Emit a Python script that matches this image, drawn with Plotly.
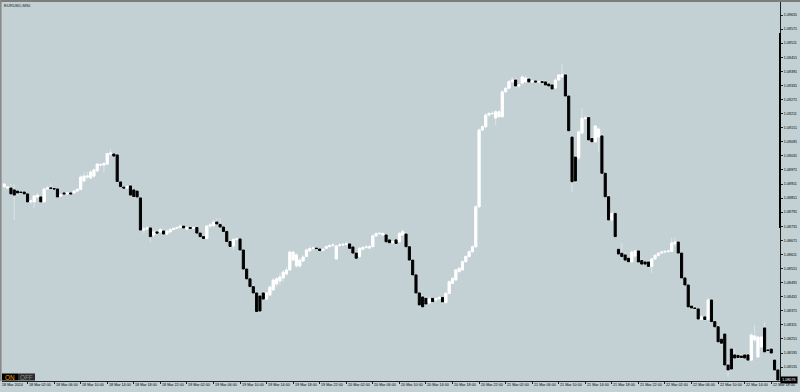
import plotly.graph_objects as go

# ---------------- data (EURUSD, M30) ----------------
opens = [
    1.08900, 1.08894, 1.08894, 1.08886, 1.08881, 1.08877, 1.08877, 1.08869, 1.08835, 1.08835,
    1.08856, 1.08856, 1.08835, 1.08890, 1.08894, 1.08892, 1.08890, 1.08860, 1.08873, 1.08869,
    1.08873, 1.08873, 1.08881, 1.08888, 1.08924, 1.08941, 1.08937, 1.08945, 1.08967, 1.08992,
    1.08992, 1.08996, 1.09039, 1.09039, 1.09035, 1.08920, 1.08898, 1.08894, 1.08903, 1.08886,
    1.08881, 1.08852, 1.08715, 1.08719, 1.08724, 1.08694, 1.08707, 1.08707, 1.08711, 1.08698,
    1.08707, 1.08717, 1.08722, 1.08726, 1.08732, 1.08719, 1.08726, 1.08722, 1.08726, 1.08702,
    1.08687, 1.08679, 1.08732, 1.08734, 1.08749, 1.08739, 1.08728, 1.08709, 1.08666, 1.08647,
    1.08675, 1.08677, 1.08630, 1.08549, 1.08507, 1.08474, 1.08447, 1.08434, 1.08447, 1.08421,
    1.08438, 1.08460, 1.08485, 1.08498, 1.08511, 1.08528, 1.08545, 1.08587, 1.08562, 1.08562,
    1.08583, 1.08602, 1.08626, 1.08636, 1.08638, 1.08634, 1.08628, 1.08637, 1.08644, 1.08649,
    1.08592, 1.08649, 1.08651, 1.08654, 1.08656, 1.08643, 1.08617, 1.08602, 1.08633, 1.08641,
    1.08638, 1.08644, 1.08690, 1.08700, 1.08694, 1.08694, 1.08673, 1.08661, 1.08673, 1.08665,
    1.08694, 1.08698, 1.08644, 1.08587, 1.08524, 1.08447, 1.08430, 1.08424, 1.08404, 1.08424,
    1.08417, 1.08423, 1.08428, 1.08406, 1.08445, 1.08488, 1.08502, 1.08538, 1.08545, 1.08580,
    1.08602, 1.08623, 1.08644, 1.08814, 1.09141, 1.09155, 1.09205, 1.09211, 1.09192, 1.09198,
    1.09198, 1.09304, 1.09319, 1.09347, 1.09354, 1.09329, 1.09341, 1.09347, 1.09358, 1.09346,
    1.09350, 1.09346, 1.09347, 1.09346, 1.09337, 1.09333, 1.09320, 1.09354, 1.09367, 1.09376,
    1.09286, 1.09111, 1.09026, 1.09022, 1.09128, 1.09191, 1.09194, 1.09105, 1.09091, 1.09111,
    1.09116, 1.08957, 1.08857, 1.08758, 1.08786, 1.08633, 1.08616, 1.08609, 1.08595, 1.08580,
    1.08604, 1.08626, 1.08585, 1.08579, 1.08579, 1.08560, 1.08592, 1.08607, 1.08617, 1.08621,
    1.08624, 1.08624, 1.08656, 1.08664, 1.08617, 1.08511, 1.08481, 1.08391, 1.08383, 1.08379,
    1.08334, 1.08345, 1.08334, 1.08417, 1.08325, 1.08303, 1.08250, 1.08272, 1.08140, 1.08208,
    1.08183, 1.08181, 1.08178, 1.08183, 1.08183, 1.08161, 1.08247, 1.08174, 1.08217, 1.08298,
    1.08204, 1.08208, 1.08161, 1.08119,
]
highs = [
    1.08915, 1.08903, 1.08911, 1.08911, 1.08886, 1.08881, 1.08881, 1.08873, 1.08847, 1.08864,
    1.08873, 1.08864, 1.08894, 1.08903, 1.08915, 1.08894, 1.08894, 1.08869, 1.08877, 1.08877,
    1.08877, 1.08886, 1.08894, 1.08950, 1.08962, 1.08962, 1.08971, 1.08979, 1.09001, 1.09001,
    1.09005, 1.09043, 1.09060, 1.09043, 1.09039, 1.08924, 1.08903, 1.08907, 1.08911, 1.08890,
    1.08886, 1.08856, 1.08728, 1.08732, 1.08728, 1.08715, 1.08715, 1.08724, 1.08719, 1.08715,
    1.08724, 1.08728, 1.08732, 1.08741, 1.08741, 1.08732, 1.08732, 1.08732, 1.08732, 1.08707,
    1.08694, 1.08737, 1.08745, 1.08758, 1.08766, 1.08766, 1.08732, 1.08711, 1.08673, 1.08681,
    1.08681, 1.08681, 1.08634, 1.08553, 1.08511, 1.08481, 1.08451, 1.08443, 1.08455, 1.08451,
    1.08481, 1.08511, 1.08515, 1.08532, 1.08545, 1.08558, 1.08626, 1.08626, 1.08617, 1.08596,
    1.08609, 1.08638, 1.08647, 1.08647, 1.08643, 1.08638, 1.08638, 1.08651, 1.08656, 1.08660,
    1.08651, 1.08660, 1.08660, 1.08668, 1.08664, 1.08647, 1.08621, 1.08643, 1.08647, 1.08651,
    1.08651, 1.08698, 1.08707, 1.08707, 1.08707, 1.08698, 1.08677, 1.08673, 1.08677, 1.08707,
    1.08719, 1.08707, 1.08651, 1.08592, 1.08528, 1.08451, 1.08438, 1.08434, 1.08430, 1.08430,
    1.08430, 1.08434, 1.08434, 1.08451, 1.08502, 1.08515, 1.08549, 1.08558, 1.08587, 1.08609,
    1.08630, 1.08651, 1.08822, 1.09150, 1.09162, 1.09214, 1.09218, 1.09222, 1.09226, 1.09226,
    1.09312, 1.09324, 1.09354, 1.09367, 1.09363, 1.09337, 1.09376, 1.09371, 1.09367, 1.09354,
    1.09354, 1.09354, 1.09354, 1.09354, 1.09346, 1.09341, 1.09363, 1.09380, 1.09422, 1.09384,
    1.09290, 1.09120, 1.09035, 1.09141, 1.09235, 1.09205, 1.09201, 1.09111, 1.09162, 1.09154,
    1.09124, 1.08962, 1.08864, 1.08792, 1.08792, 1.08638, 1.08660, 1.08621, 1.08600, 1.08630,
    1.08630, 1.08630, 1.08592, 1.08583, 1.08587, 1.08596, 1.08613, 1.08621, 1.08630, 1.08630,
    1.08630, 1.08681, 1.08681, 1.08668, 1.08621, 1.08515, 1.08485, 1.08396, 1.08391, 1.08383,
    1.08353, 1.08349, 1.08425, 1.08421, 1.08332, 1.08311, 1.08255, 1.08276, 1.08153, 1.08213,
    1.08208, 1.08187, 1.08187, 1.08191, 1.08191, 1.08276, 1.08311, 1.08264, 1.08264, 1.08323,
    1.08213, 1.08217, 1.08170, 1.08123,
]
lows = [
    1.08894, 1.08890, 1.08864, 1.08758, 1.08860, 1.08869, 1.08864, 1.08830, 1.08826, 1.08809,
    1.08852, 1.08830, 1.08830, 1.08886, 1.08890, 1.08886, 1.08852, 1.08856, 1.08864, 1.08864,
    1.08864, 1.08869, 1.08877, 1.08886, 1.08920, 1.08932, 1.08932, 1.08937, 1.08962, 1.08984,
    1.08958, 1.08992, 1.09030, 1.09026, 1.08920, 1.08898, 1.08890, 1.08890, 1.08860, 1.08856,
    1.08852, 1.08711, 1.08702, 1.08715, 1.08664, 1.08685, 1.08698, 1.08702, 1.08694, 1.08694,
    1.08702, 1.08715, 1.08719, 1.08724, 1.08719, 1.08715, 1.08719, 1.08719, 1.08698, 1.08685,
    1.08677, 1.08677, 1.08724, 1.08728, 1.08737, 1.08724, 1.08707, 1.08664, 1.08638, 1.08630,
    1.08668, 1.08621, 1.08545, 1.08502, 1.08468, 1.08443, 1.08366, 1.08362, 1.08417, 1.08417,
    1.08434, 1.08455, 1.08472, 1.08481, 1.08494, 1.08519, 1.08541, 1.08583, 1.08553, 1.08553,
    1.08579, 1.08600, 1.08621, 1.08630, 1.08630, 1.08626, 1.08626, 1.08634, 1.08643, 1.08643,
    1.08587, 1.08643, 1.08647, 1.08647, 1.08634, 1.08613, 1.08592, 1.08596, 1.08630, 1.08634,
    1.08634, 1.08643, 1.08685, 1.08694, 1.08690, 1.08664, 1.08656, 1.08656, 1.08651, 1.08660,
    1.08690, 1.08638, 1.08579, 1.08519, 1.08443, 1.08391, 1.08383, 1.08396, 1.08400, 1.08404,
    1.08409, 1.08417, 1.08400, 1.08400, 1.08443, 1.08485, 1.08498, 1.08532, 1.08541, 1.08575,
    1.08596, 1.08617, 1.08638, 1.08809, 1.09137, 1.09150, 1.09197, 1.09205, 1.09162, 1.09192,
    1.09192, 1.09299, 1.09316, 1.09341, 1.09320, 1.09320, 1.09333, 1.09341, 1.09341, 1.09341,
    1.09341, 1.09341, 1.09337, 1.09329, 1.09324, 1.09312, 1.09316, 1.09350, 1.09363, 1.09282,
    1.09133, 1.08877, 1.08915, 1.09013, 1.09124, 1.09184, 1.09090, 1.09086, 1.09086, 1.09048,
    1.08954, 1.08852, 1.08754, 1.08749, 1.08685, 1.08609, 1.08600, 1.08583, 1.08575, 1.08575,
    1.08600, 1.08575, 1.08566, 1.08566, 1.08553, 1.08532, 1.08587, 1.08600, 1.08613, 1.08617,
    1.08617, 1.08621, 1.08647, 1.08613, 1.08507, 1.08477, 1.08387, 1.08374, 1.08374, 1.08332,
    1.08332, 1.08328, 1.08328, 1.08323, 1.08302, 1.08234, 1.08225, 1.08136, 1.08089, 1.08115,
    1.08166, 1.08166, 1.08166, 1.08166, 1.08157, 1.08157, 1.08238, 1.08170, 1.08213, 1.08191,
    1.08196, 1.08187, 1.08115, 1.08068,
]
closes = [
    1.08911, 1.08898, 1.08869, 1.08864, 1.08873, 1.08875, 1.08869, 1.08835, 1.08839, 1.08860,
    1.08864, 1.08835, 1.08890, 1.08894, 1.08893, 1.08890, 1.08856, 1.08864, 1.08869, 1.08873,
    1.08869, 1.08881, 1.08888, 1.08941, 1.08945, 1.08945, 1.08962, 1.08971, 1.08996, 1.08994,
    1.08998, 1.09041, 1.09043, 1.09030, 1.08922, 1.08900, 1.08894, 1.08900, 1.08864, 1.08858,
    1.08856, 1.08715, 1.08719, 1.08724, 1.08687, 1.08707, 1.08702, 1.08717, 1.08698, 1.08711,
    1.08717, 1.08722, 1.08726, 1.08732, 1.08724, 1.08726, 1.08722, 1.08726, 1.08702, 1.08687,
    1.08679, 1.08732, 1.08737, 1.08749, 1.08741, 1.08728, 1.08709, 1.08666, 1.08645, 1.08675,
    1.08677, 1.08630, 1.08549, 1.08507, 1.08474, 1.08447, 1.08368, 1.08370, 1.08421, 1.08447,
    1.08472, 1.08502, 1.08507, 1.08515, 1.08536, 1.08545, 1.08621, 1.08621, 1.08609, 1.08587,
    1.08600, 1.08630, 1.08636, 1.08638, 1.08636, 1.08628, 1.08633, 1.08644, 1.08649, 1.08651,
    1.08647, 1.08651, 1.08654, 1.08656, 1.08637, 1.08617, 1.08595, 1.08637, 1.08641, 1.08643,
    1.08644, 1.08690, 1.08700, 1.08701, 1.08700, 1.08665, 1.08661, 1.08664, 1.08658, 1.08701,
    1.08708, 1.08644, 1.08587, 1.08524, 1.08447, 1.08396, 1.08388, 1.08400, 1.08421, 1.08410,
    1.08423, 1.08428, 1.08409, 1.08445, 1.08495, 1.08509, 1.08545, 1.08552, 1.08580, 1.08602,
    1.08623, 1.08644, 1.08814, 1.09141, 1.09155, 1.09205, 1.09212, 1.09212, 1.09219, 1.09219,
    1.09304, 1.09319, 1.09347, 1.09354, 1.09329, 1.09333, 1.09367, 1.09363, 1.09346, 1.09350,
    1.09346, 1.09347, 1.09344, 1.09333, 1.09329, 1.09316, 1.09354, 1.09376, 1.09378, 1.09286,
    1.09138, 1.08921, 1.08924, 1.09133, 1.09191, 1.09192, 1.09099, 1.09091, 1.09158, 1.09145,
    1.08957, 1.08857, 1.08758, 1.08786, 1.08687, 1.08613, 1.08602, 1.08587, 1.08580, 1.08621,
    1.08626, 1.08579, 1.08570, 1.08570, 1.08560, 1.08592, 1.08607, 1.08617, 1.08621, 1.08624,
    1.08626, 1.08660, 1.08664, 1.08617, 1.08511, 1.08481, 1.08388, 1.08383, 1.08381, 1.08336,
    1.08345, 1.08334, 1.08417, 1.08325, 1.08303, 1.08239, 1.08233, 1.08140, 1.08119, 1.08123,
    1.08170, 1.08172, 1.08172, 1.08170, 1.08161, 1.08268, 1.08264, 1.08259, 1.08259, 1.08196,
    1.08202, 1.08191, 1.08119, 1.08076,
]
time_labels = [
    "18 Mar 2024", "18 Mar 02:00", "18 Mar 06:00", "18 Mar 10:00", "18 Mar 14:00",
    "18 Mar 18:00", "18 Mar 22:00", "19 Mar 02:00", "19 Mar 06:00", "19 Mar 10:00",
    "19 Mar 14:00", "19 Mar 18:00", "19 Mar 22:00", "20 Mar 02:00", "20 Mar 06:00",
    "20 Mar 10:00", "20 Mar 14:00", "20 Mar 18:00", "20 Mar 22:00", "21 Mar 02:00",
    "21 Mar 06:00", "21 Mar 10:00", "21 Mar 14:00", "21 Mar 18:00", "21 Mar 22:00",
    "22 Mar 02:00", "22 Mar 06:00", "22 Mar 10:00", "22 Mar 14:00", "22 Mar 18:00",
]
label_every = 8  # bars between time labels
price_ticks = [
    1.09631, 1.09571, 1.09511, 1.09451, 1.09391, 1.09331, 1.09271, 1.09211, 1.09151,
    1.09091, 1.09031, 1.08971, 1.08911, 1.08851, 1.08791, 1.08731, 1.08671, 1.08611,
    1.08551, 1.08491, 1.08431, 1.08371, 1.08311, 1.08251, 1.08191, 1.08131,
]
symbol_title = "EURUSD,M30"

# ---------------- styling ----------------
BG = "#C3D1D5"
WICK = "#DCE4E7"
FONT = "Liberation Sans, Arial, sans-serif"
W, H = 800, 392
ML, MR, MT, MB = 2, 20, 2, 11
X_RANGE = [-0.693, 233.64]
Y_RANGE = [1.080719, 1.096865]


def px(x):
    return (x - ML) / (W - ML - MR)


def py(y):
    return (H - MB - y) / (H - MT - MB)


def xdata_to_paper(v):
    return (v - X_RANGE[0]) / (X_RANGE[1] - X_RANGE[0])


idx = list(range(len(closes)))
body_top = [max(o, c) for o, c in zip(opens, closes)]
body_bot = [min(o, c) for o, c in zip(opens, closes)]

fig = go.Figure()
# wicks (full high/low range, light colour)
fig.add_trace(go.Candlestick(
    x=idx, open=opens, high=highs, low=lows, close=closes,
    increasing=dict(line=dict(color=WICK, width=1), fillcolor=WICK),
    decreasing=dict(line=dict(color=WICK, width=1), fillcolor=WICK),
    whiskerwidth=0, hoverinfo="skip", showlegend=False,
))
# bodies (white = up, black = down)
fig.add_trace(go.Candlestick(
    x=idx, open=opens, high=body_top, low=body_bot, close=closes,
    increasing=dict(line=dict(color="#FFFFFF", width=1), fillcolor="#FFFFFF"),
    decreasing=dict(line=dict(color="#000000", width=1), fillcolor="#000000"),
    whiskerwidth=0, hoverinfo="skip", showlegend=False,
))

tick_positions = [k * label_every - 1 for k in range(len(time_labels))]

annotations = []
for pos, lab in zip(tick_positions, time_labels):
    annotations.append(dict(
        x=xdata_to_paper(pos), xref="paper", y=0, yref="paper",
        xanchor="left", yanchor="top", yshift=-1, xshift=0.5,
        text=lab, showarrow=False, borderpad=0,
        font=dict(size=3.7, color="#000000", family=FONT),
    ))
annotations.append(dict(
    x=px(2.5), xref="paper", y=py(5), yref="paper", xanchor="left", yanchor="middle",
    text=symbol_title, showarrow=False, borderpad=0,
    font=dict(size=4.1, color="#1A1A1A", family=FONT),
))
annotations.append(dict(
    x=px(10), xref="paper", y=py(377.2), yref="paper", xanchor="center", yanchor="middle",
    text="ON", showarrow=False, borderpad=0,
    font=dict(size=6.3, color="#F2A000", family=FONT),
))
annotations.append(dict(
    x=px(26.5), xref="paper", y=py(377.2), yref="paper", xanchor="center", yanchor="middle",
    text="OFF", showarrow=False, borderpad=0,
    font=dict(size=6.3, color="#8E8E8E", family=FONT),
))
annotations.append(dict(
    x=1, xref="paper", y=closes[-1], yref="y", xanchor="left", yanchor="middle",
    text=f"{closes[-1]:.5f}", showarrow=False, bgcolor="#000000", borderpad=1.2,
    font=dict(size=3.7, color="#FFFFFF", family=FONT),
))

shapes = [
    # window frame
    dict(type="rect", xref="paper", yref="paper", x0=px(0), x1=px(800), y0=py(0), y1=py(2),
         fillcolor="#7C7C7C", line=dict(width=0), layer="above"),
    dict(type="rect", xref="paper", yref="paper", x0=px(0), x1=px(1.6), y0=py(0), y1=py(381),
         fillcolor="#8A8A8A", line=dict(width=0), layer="above"),
    # ON / OFF buttons
    dict(type="rect", xref="paper", yref="paper", x0=px(2), x1=px(18), y0=py(380.5), y1=py(373.5),
         fillcolor="#000000", line=dict(width=0), layer="above"),
    dict(type="rect", xref="paper", yref="paper", x0=px(18), x1=px(35), y0=py(380.5), y1=py(373.5),
         fillcolor="#2C2C2C", line=dict(width=0), layer="above"),
    # thick segment on price scale
    dict(type="line", xref="paper", yref="paper", x0=1, x1=1, y0=py(33), y1=py(228),
         line=dict(color="#000000", width=2), layer="above"),
]

fig.update_layout(
    template="none",
    width=W, height=H,
    margin=dict(l=ML, r=MR, t=MT, b=MB, pad=0),
    paper_bgcolor=BG, plot_bgcolor=BG,
    showlegend=False,
    boxgap=0.2, boxgroupgap=0.2,
    font=dict(family=FONT, size=4, color="#000000"),
    xaxis=dict(
        type="linear", range=X_RANGE, rangeslider=dict(visible=False),
        showgrid=False, zeroline=False, showline=True, linecolor="#202020", linewidth=1,
        tickmode="array", tickvals=tick_positions, showticklabels=False,
        ticks="outside", ticklen=2, tickcolor="#202020", tickwidth=1,
        automargin=False, fixedrange=True,
    ),
    yaxis=dict(
        side="right", range=Y_RANGE, showgrid=False, zeroline=False,
        showline=True, linecolor="#202020", linewidth=1,
        tickmode="array", tickvals=price_ticks, ticktext=[f"{v:.5f}" for v in price_ticks],
        ticks="outside", ticklen=2, tickcolor="#202020", tickwidth=1,
        tickfont=dict(size=3.7, color="#000000", family=FONT),
        automargin=False, fixedrange=True,
    ),
    annotations=annotations,
    shapes=shapes,
)

fig.write_html("out.html")
